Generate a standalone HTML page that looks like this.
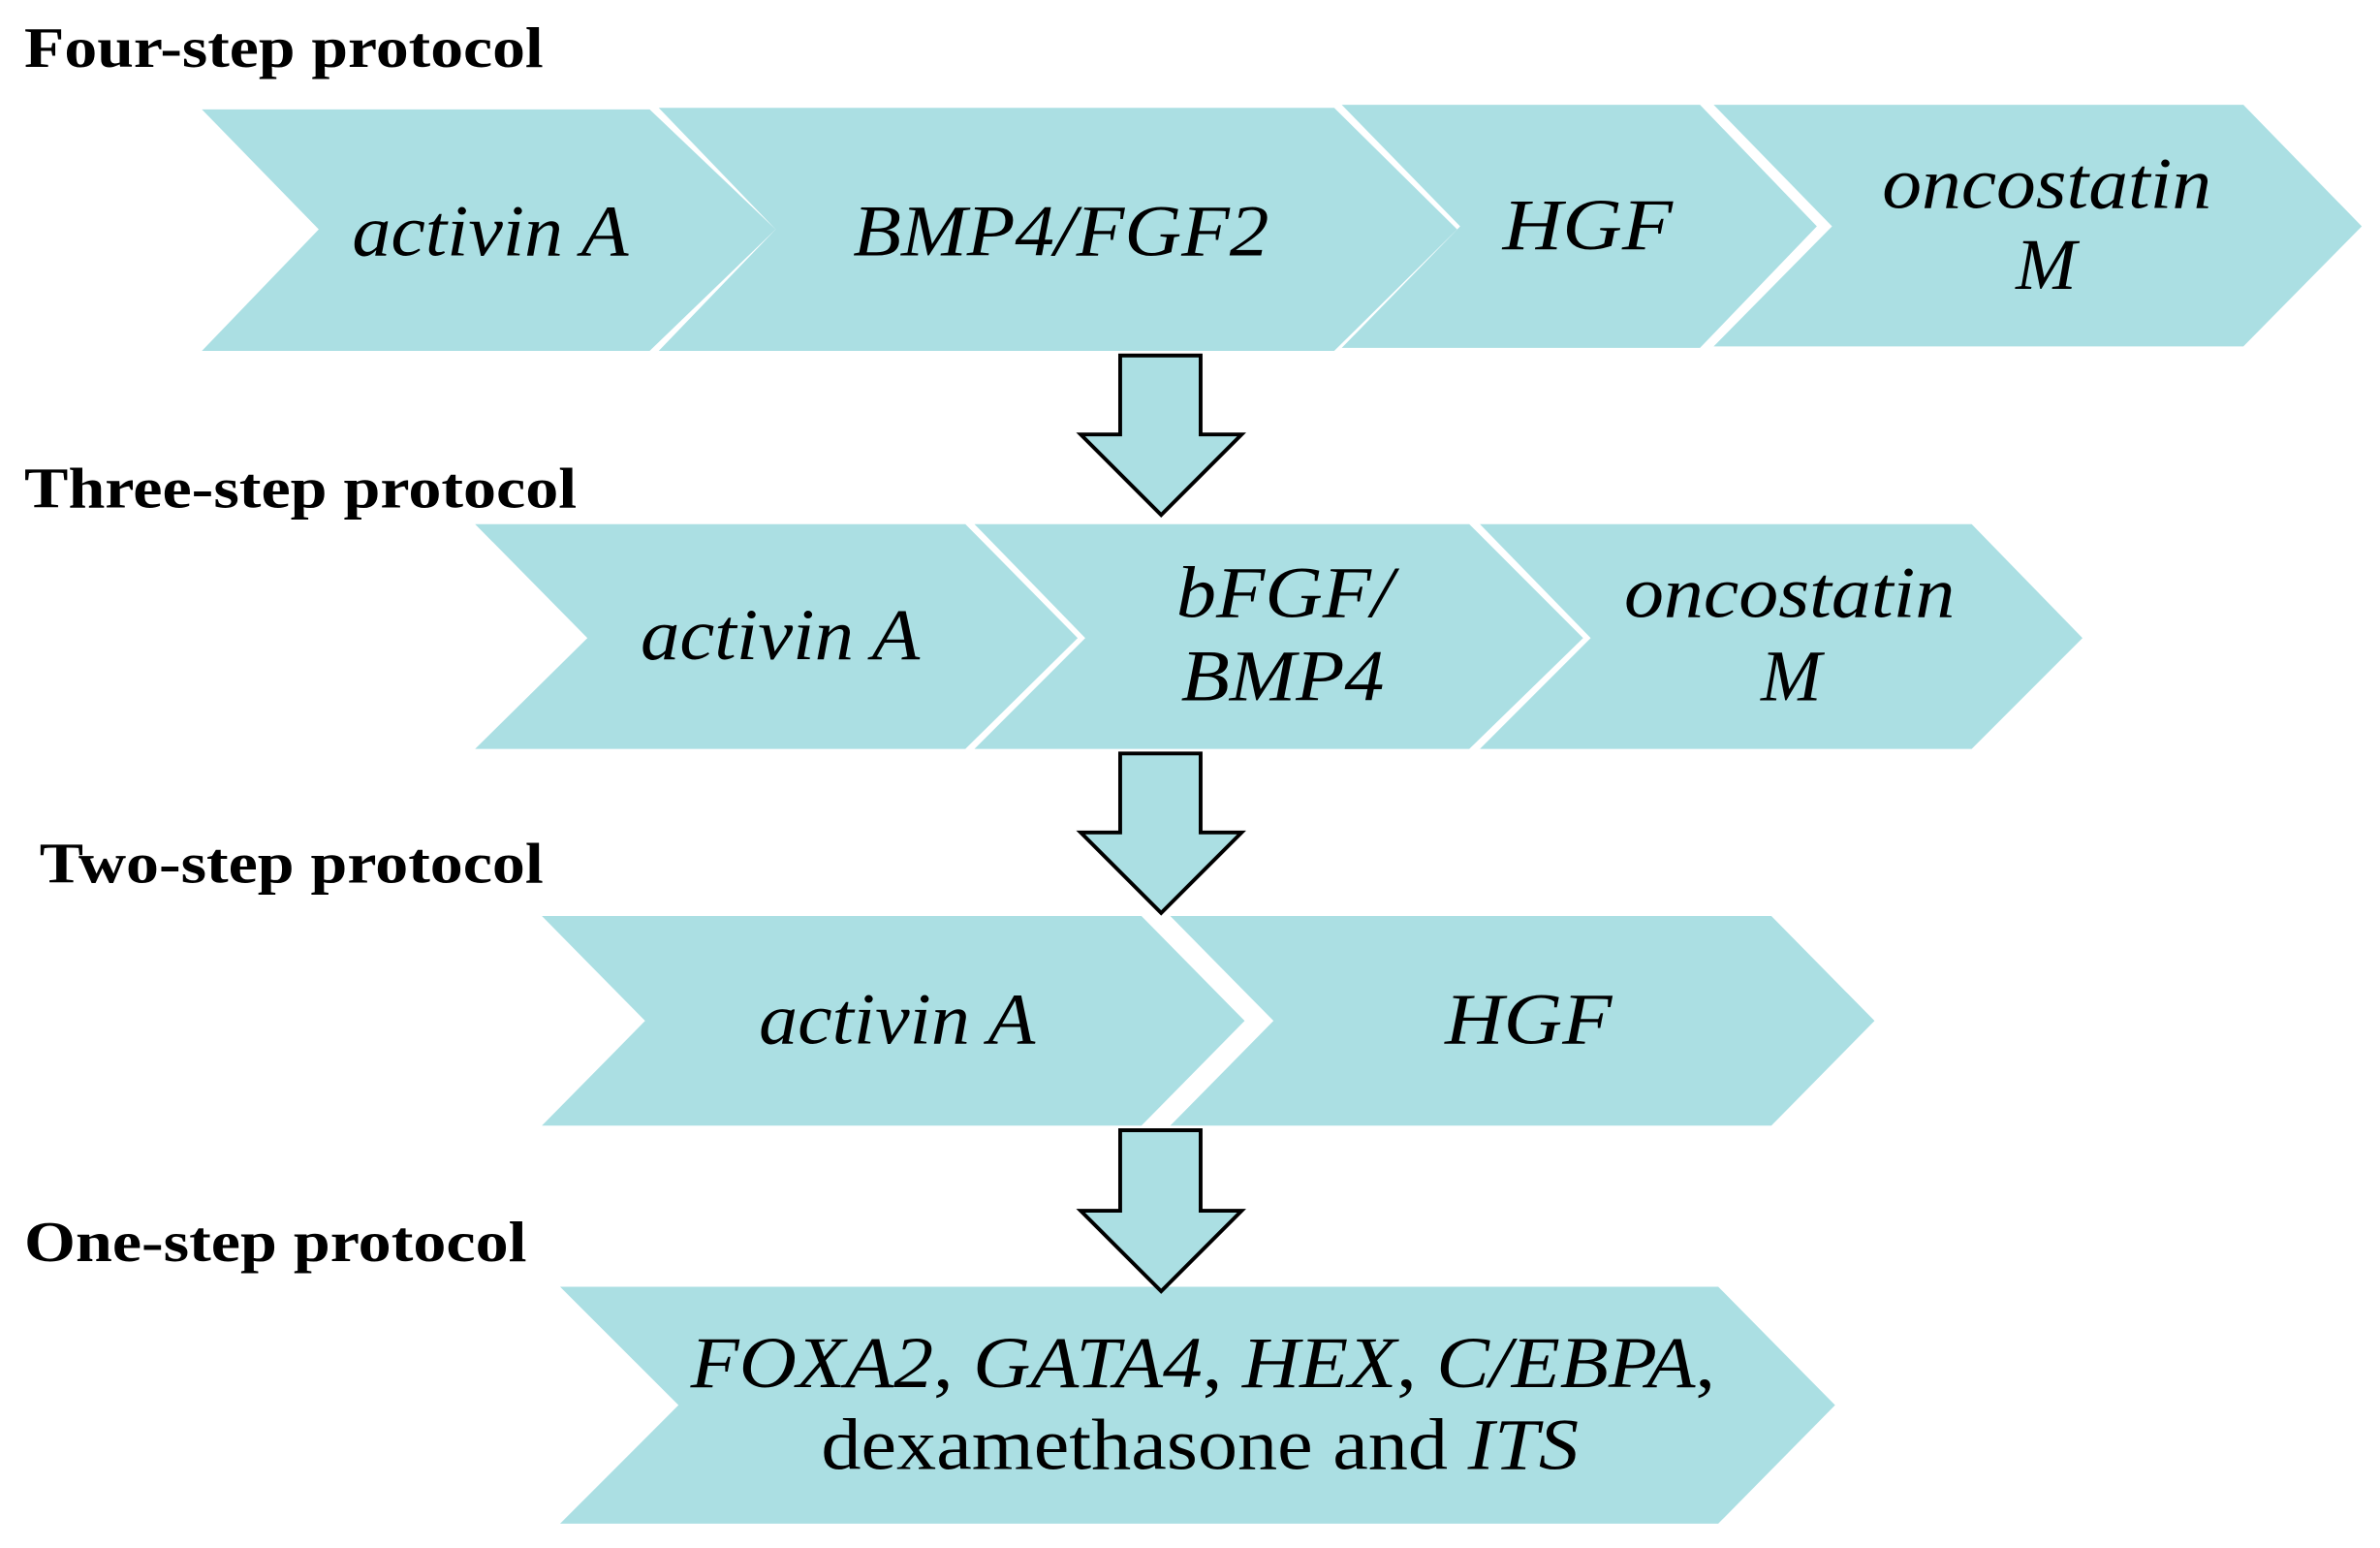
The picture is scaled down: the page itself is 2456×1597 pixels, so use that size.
<!DOCTYPE html>
<html><head><meta charset="utf-8"><style>
html,body{margin:0;padding:0;background:#fff;}
svg{display:block;}
text{font-family:"Liberation Serif",serif;}
.t{font-weight:bold;font-size:38px;}
.i{font-style:italic;font-size:48px;}
.n{font-style:normal;}
</style></head><body>
<svg width="2456" height="1597" viewBox="0 0 1568 1019" preserveAspectRatio="none" xmlns="http://www.w3.org/2000/svg">
<g fill="#abdfe3">
<polygon points="133,72 428,72 511,151 428,231 133,231 210,151"/>
<polygon points="434,71 879,71 960,151 879,231 434,231 511,151"/>
<polygon points="884,69 1120,69 1197,149 1120,229 884,229 962,149"/>
<polygon points="1129,69 1478,69 1556,149 1478,228 1129,228 1207,149"/>
<polygon points="313,345 636,345 710,420 636,493 313,493 387,420"/>
<polygon points="642,345 968,345 1043,420 968,493 642,493 715,420"/>
<polygon points="975,345 1299,345 1372,420 1299,493 975,493 1048,420"/>
<polygon points="357,603 752,603 820,672 752,741 357,741 425,672"/>
<polygon points="771,603 1167,603 1235,672 1167,741 771,741 839,672"/>
<polygon points="369,847 1132,847 1209,925 1132,1003 369,1003 447,925"/>
</g>
<g fill="#abdfe3" stroke="#000" stroke-width="2.5" stroke-linejoin="miter">
<polygon points="738,234 791,234 791,286 818,286 765,339 712,286 738,286"/>
<polygon points="738,496 791,496 791,548 818,548 765,601 712,548 738,548"/>
<polygon points="738,744 791,744 791,797 818,797 765,850 712,797 738,797"/>
</g>
<g fill="#000">
<text class="t" x="16" y="44" textLength="342" lengthAdjust="spacingAndGlyphs">Four-step protocol</text>
<text class="t" x="16" y="334" textLength="364" lengthAdjust="spacingAndGlyphs">Three-step protocol</text>
<text class="t" x="26" y="581" textLength="332" lengthAdjust="spacingAndGlyphs">Two-step protocol</text>
<text class="t" x="16" y="830" textLength="331" lengthAdjust="spacingAndGlyphs">One-step protocol</text>

<text class="i" x="232" y="168" textLength="182" lengthAdjust="spacingAndGlyphs">activin A</text>
<text class="i" x="562" y="168" textLength="274" lengthAdjust="spacingAndGlyphs">BMP4/FGF2</text>
<text class="i" x="990" y="164" textLength="112" lengthAdjust="spacingAndGlyphs">HGF</text>
<text class="i" x="1240" y="137" textLength="217" lengthAdjust="spacingAndGlyphs">oncostatin</text>
<text class="i" x="1348" y="190" text-anchor="middle">M</text>

<text class="i" x="422" y="434" textLength="184" lengthAdjust="spacingAndGlyphs">activin A</text>
<text class="i" x="775" y="406" textLength="143" lengthAdjust="spacingAndGlyphs">bFGF/</text>
<text class="i" x="778" y="461" textLength="134" lengthAdjust="spacingAndGlyphs">BMP4</text>
<text class="i" x="1070" y="406" textLength="218" lengthAdjust="spacingAndGlyphs">oncostatin</text>
<text class="i" x="1180" y="461" text-anchor="middle">M</text>

<text class="i" x="500" y="687" textLength="182" lengthAdjust="spacingAndGlyphs">activin A</text>
<text class="i" x="952" y="687" textLength="110" lengthAdjust="spacingAndGlyphs">HGF</text>

<text class="i" x="455" y="913" textLength="675" lengthAdjust="spacingAndGlyphs">FOXA2<tspan class="n">, </tspan>GATA4<tspan class="n">, </tspan>HEX<tspan class="n">, </tspan>C/EBPA<tspan class="n">,</tspan></text>
<text class="i" x="541" y="967" textLength="499" lengthAdjust="spacingAndGlyphs"><tspan class="n">dexamethasone and </tspan>ITS</text>
</g>
</svg>
</body></html>
